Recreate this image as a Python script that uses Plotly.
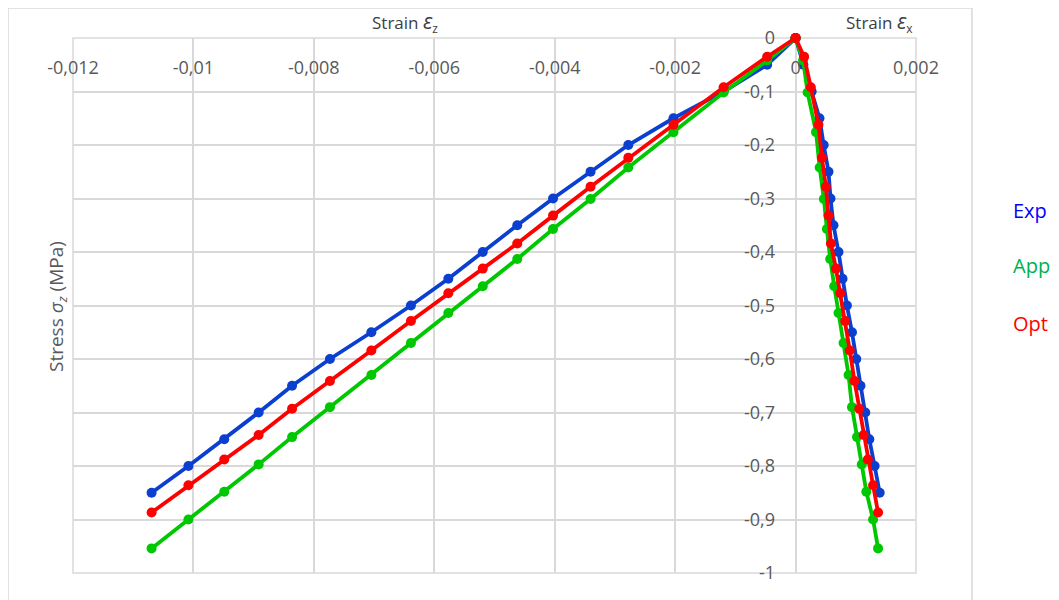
import plotly.graph_objects as go

# ---- data ----
strain_z = [0, -0.000472, -0.001195, -0.002028, -0.002778, -0.003405, -0.004028, -0.004622,
            -0.005195, -0.005767, -0.006388, -0.007045, -0.007733, -0.008362, -0.008917,
            -0.009488, -0.010083, -0.010695]

stress_exp = [0, -0.05, -0.10, -0.15, -0.20, -0.25, -0.30, -0.35, -0.40, -0.45, -0.50,
              -0.55, -0.60, -0.65, -0.70, -0.75, -0.80, -0.85]
stress_app = [0, -0.042, -0.102, -0.176, -0.242, -0.301, -0.357, -0.413, -0.464, -0.514,
              -0.570, -0.630, -0.690, -0.746, -0.797, -0.848, -0.900, -0.954]
stress_opt = [0, -0.035, -0.092, -0.162, -0.224, -0.278, -0.332, -0.384, -0.431, -0.477,
              -0.529, -0.584, -0.641, -0.693, -0.742, -0.788, -0.836, -0.887]

strain_x_exp = [0, 0.00013, 0.000267, 0.000397, 0.000467, 0.000547, 0.00058, 0.00063,
                0.000713, 0.00078, 0.000853, 0.000937, 0.001008, 0.001078, 0.001158,
                0.001225, 0.001313, 0.001397]
strain_x_app = [0, 0.000125, 0.0002, 0.00034, 0.0004, 0.00047, 0.00052, 0.000575,
                0.000642, 0.000713, 0.000797, 0.00088, 0.000937, 0.00102, 0.0011,
                0.001175, 0.001287, 0.00137]
strain_x_opt = [0, 0.000142, 0.000253, 0.00038, 0.000437, 0.000503, 0.000547, 0.000587,
                0.00067, 0.000742, 0.000825, 0.0009, 0.000978, 0.001058, 0.00113,
                0.0012, 0.001287, 0.00137]

series_names = ["Exp", "App", "Opt"]
line_colors = ["#0a3fd0", "#00c800", "#ff0000"]
legend_colors = ["#0000ff", "#00b050", "#ff0000"]

x_tickvals = [-0.012, -0.010, -0.008, -0.006, -0.004, -0.002, 0, 0.002]
x_ticktext = ["-0,012", "-0,01", "-0,008", "-0,006", "-0,004", "-0,002", "0", "0,002"]
y_tickvals = [0, -0.1, -0.2, -0.3, -0.4, -0.5, -0.6, -0.7, -0.8, -0.9, -1]
y_ticktext = ["0", "-0,1", "-0,2", "-0,3", "-0,4", "-0,5", "-0,6", "-0,7", "-0,8", "-0,9", "-1"]

stresses = [stress_exp, stress_app, stress_opt]
strains_x = [strain_x_exp, strain_x_app, strain_x_opt]

fig = go.Figure()
for name, col, s, sx in zip(series_names, line_colors, stresses, strains_x):
    for xs in (strain_z, sx):
        fig.add_trace(go.Scatter(
            x=xs, y=s, mode="lines+markers", name=name, showlegend=False,
            line=dict(color=col, width=3.8),
            marker=dict(color=col, size=10, symbol="circle"),
            cliponaxis=False,
        ))

grid = "#d9d9d9"
tick_font = dict(family="Open Sans", size=18, color="#595959")

fig.update_layout(
    width=1051, height=592,
    margin=dict(l=65, r=143, t=30, b=27),
    paper_bgcolor="white", plot_bgcolor="white",
    font=dict(family="Open Sans", color="#595959"),
    showlegend=False,
    xaxis=dict(
        range=[-0.012, 0.002], tickmode="array", tickvals=x_tickvals, ticktext=x_ticktext,
        showgrid=True, gridcolor=grid, gridwidth=1.5, zeroline=False, showline=False,
        anchor="free", position=0.968, side="bottom", ticks="", tickfont=tick_font,
    ),
    yaxis=dict(
        range=[-1, 0], tickmode="array", tickvals=y_tickvals, ticktext=y_ticktext,
        showgrid=True, gridcolor=grid, gridwidth=1.5, zeroline=False, showline=False,
        anchor="free", position=722.6 / 843, ticks="outside", ticklen=17,
        tickcolor="rgba(0,0,0,0)", tickfont=tick_font,
    ),
    shapes=[
        dict(type="rect", xref="paper", yref="paper", x0=0, x1=1, y0=0, y1=1,
             line=dict(color=grid, width=1.5), layer="below"),
        dict(type="rect", xref="paper", yref="paper", x0=-0.0771, x1=1.0664, y0=-0.07, y1=1.056,
             line=dict(color=grid, width=1.5), layer="below"),
    ],
)

eps = '<span style="font-size:21px"><i>ε</i></span>'
annotations = [
    dict(text="Strain " + eps + "<sub>z</sub>", x=0.394, y=1.03, xref="paper", yref="paper",
         xanchor="center", yanchor="middle", showarrow=False,
         font=dict(family="Open Sans", size=17, color="#404040")),
    dict(text="Strain " + eps + "<sub>x</sub>", x=0.957, y=1.03, xref="paper", yref="paper",
         xanchor="center", yanchor="middle", showarrow=False,
         font=dict(family="Open Sans", size=17, color="#404040")),
    dict(text="Stress <i>σ<sub>z</sub></i> (MPa)", x=-0.019, y=0.499, xref="paper", yref="paper",
         xanchor="center", yanchor="middle", showarrow=False, textangle=-90,
         font=dict(family="Open Sans", size=19, color="#595959")),
]
legend_y = [0.6785, 0.5757, 0.467]
for name, col, yy in zip(series_names, legend_colors, legend_y):
    annotations.append(dict(text=name, x=1.113, y=yy, xref="paper", yref="paper",
                            xanchor="left", yanchor="middle", showarrow=False,
                            font=dict(family="Open Sans", size=20, color=col)))
fig.update_layout(annotations=annotations)

fig.write_html("out.html")
